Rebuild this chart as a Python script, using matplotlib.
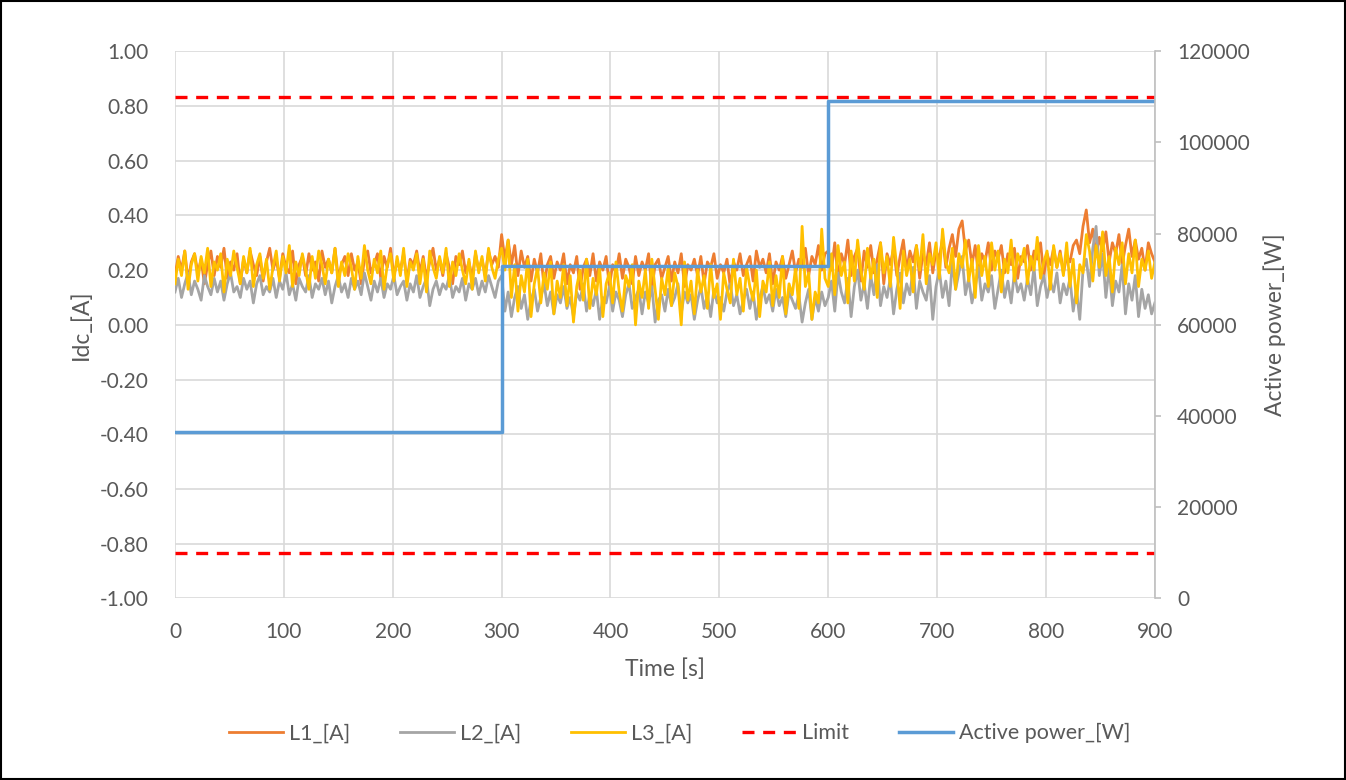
"""Idc per phase vs time, with active power steps on a secondary axis (Excel-style chart)."""

import matplotlib
matplotlib.use("Agg")
import matplotlib.pyplot as plt
from matplotlib.patches import Rectangle

plt.rcParams["font.family"] = ["Lato", "DejaVu Sans"]

# sample times, every 3 s
time_s = list(range(0, 903, 3))

l1_a = [
    # 0 - 297 s
    0.18, 0.25, 0.20, 0.27, 0.16, 0.23, 0.26, 0.19, 0.24, 0.15,
    0.22, 0.27, 0.18, 0.25, 0.21, 0.28, 0.17, 0.23, 0.20, 0.26,
    0.15, 0.24, 0.19, 0.27, 0.22, 0.18, 0.25, 0.16, 0.23, 0.28,
    0.20, 0.24, 0.17, 0.26, 0.21, 0.19, 0.27, 0.15, 0.22, 0.25,
    0.18, 0.26, 0.20, 0.23, 0.16, 0.27, 0.21, 0.24, 0.19, 0.28,
    0.17, 0.22, 0.25, 0.18, 0.26, 0.20, 0.23, 0.15, 0.24, 0.27,
    0.19, 0.22, 0.26, 0.17, 0.25, 0.21, 0.28, 0.18, 0.23, 0.20,
    0.26, 0.16, 0.24, 0.22, 0.27, 0.19, 0.25, 0.17, 0.23, 0.28,
    0.20, 0.24, 0.18, 0.26, 0.21, 0.15, 0.25, 0.22, 0.27, 0.19,
    0.23, 0.17, 0.26, 0.20, 0.24, 0.18, 0.27, 0.22, 0.25, 0.21,
    # 300 - 597 s
    0.33, 0.24, 0.31, 0.22, 0.29, 0.18, 0.27, 0.21, 0.25, 0.16,
    0.24, 0.19, 0.26, 0.14, 0.22, 0.25, 0.17, 0.23, 0.20, 0.26,
    0.15, 0.22, 0.19, 0.25, 0.13, 0.21, 0.24, 0.18, 0.26, 0.16,
    0.23, 0.20, 0.25, 0.14, 0.22, 0.19, 0.26, 0.17, 0.24, 0.21,
    0.15, 0.25, 0.18, 0.23, 0.20, 0.26, 0.13, 0.22, 0.24, 0.17,
    0.21, 0.25, 0.16, 0.23, 0.19, 0.26, 0.14, 0.22, 0.20, 0.24,
    0.18, 0.25, 0.15, 0.23, 0.21, 0.26, 0.17, 0.22, 0.19, 0.24,
    0.14, 0.23, 0.20, 0.26, 0.18, 0.22, 0.25, 0.16, 0.27, 0.21,
    0.24, 0.19, 0.26, 0.15, 0.23, 0.20, 0.25, 0.17, 0.22, 0.27,
    0.19, 0.24, 0.21, 0.28, 0.18, 0.25, 0.22, 0.29, 0.20, 0.26,
    # 600 - 900 s
    0.27, 0.20, 0.30, 0.17, 0.26, 0.22, 0.31, 0.18, 0.25, 0.28,
    0.16, 0.27, 0.21, 0.29, 0.19, 0.24, 0.30, 0.15, 0.26, 0.22,
    0.28, 0.18, 0.25, 0.31, 0.20, 0.27, 0.23, 0.29, 0.17, 0.26,
    0.22, 0.30, 0.19, 0.27, 0.24, 0.32, 0.21, 0.28, 0.33, 0.25,
    0.35, 0.38, 0.27, 0.31, 0.22, 0.29, 0.18, 0.26, 0.23, 0.30,
    0.20, 0.27, 0.24, 0.29, 0.19, 0.26, 0.22, 0.28, 0.17, 0.25,
    0.23, 0.29, 0.20, 0.27, 0.24, 0.30, 0.18, 0.26, 0.22, 0.28,
    0.21, 0.27, 0.19, 0.25, 0.23, 0.29, 0.31, 0.26, 0.36, 0.42,
    0.30, 0.35, 0.25, 0.32, 0.27, 0.34, 0.23, 0.30, 0.26, 0.33,
    0.22, 0.29, 0.35, 0.25, 0.31, 0.24, 0.28, 0.20, 0.30, 0.26, 0.23,
]

l2_a = [
    # 0 - 297 s
    0.12, 0.17, 0.10, 0.15, 0.19, 0.11, 0.16, 0.13, 0.09, 0.18,
    0.14, 0.11, 0.17, 0.12, 0.16, 0.09, 0.15, 0.19, 0.12, 0.14,
    0.10, 0.17, 0.13, 0.16, 0.08, 0.15, 0.18, 0.11, 0.14, 0.12,
    0.17, 0.10, 0.16, 0.13, 0.19, 0.11, 0.15, 0.09, 0.17, 0.14,
    0.12, 0.18, 0.10, 0.15, 0.13, 0.17, 0.11, 0.16, 0.08, 0.14,
    0.18, 0.12, 0.15, 0.10, 0.17, 0.13, 0.16, 0.11, 0.19, 0.14,
    0.09, 0.16, 0.12, 0.17, 0.10, 0.15, 0.13, 0.18, 0.11, 0.14,
    0.16, 0.09, 0.15, 0.12, 0.18, 0.10, 0.14, 0.17, 0.07, 0.13,
    0.16, 0.11, 0.15, 0.13, 0.18, 0.10, 0.14, 0.12, 0.17, 0.09,
    0.15, 0.13, 0.17, 0.11, 0.16, 0.12, 0.18, 0.14, 0.10, 0.16,
    # 300 - 597 s
    0.18, 0.05, 0.12, 0.03, 0.10, 0.14, 0.06, 0.11, 0.02, 0.09,
    0.13, 0.05, 0.10, 0.15, 0.07, 0.12, 0.04, 0.11, 0.08, 0.14,
    0.06, 0.10, 0.03, 0.12, 0.09, 0.15, 0.05, 0.11, 0.07, 0.13,
    0.02, 0.10, 0.08, 0.14, 0.05, 0.12, 0.09, 0.03, 0.11, 0.15,
    0.06, 0.10, 0.13, 0.04, 0.12, 0.08, 0.14, 0.01, 0.09, 0.11,
    0.05, 0.13, 0.07, 0.10, 0.15, 0.04, 0.12, 0.08, 0.11, 0.02,
    0.09, 0.14, 0.06, 0.11, 0.03, 0.13, 0.08, 0.10, 0.05, 0.12,
    0.15, 0.07, 0.11, 0.04, 0.09, 0.13, 0.06, 0.12, 0.02, 0.10,
    0.14, 0.08, 0.11, 0.05, 0.13, 0.07, 0.10, 0.03, 0.12, 0.09,
    0.06, 0.11, 0.01, 0.08, 0.13, 0.02, 0.10, 0.05, 0.12, 0.07,
    # 600 - 900 s
    0.10, 0.16, 0.05, 0.19, 0.12, 0.08, 0.17, 0.03, 0.14, 0.20,
    0.09, 0.15, 0.06, 0.18, 0.11, 0.22, 0.07, 0.14, 0.10, 0.17,
    0.04, 0.13, 0.19, 0.08, 0.15, 0.11, 0.21, 0.06, 0.16, 0.12,
    0.09, 0.18, 0.02, 0.14, 0.20, 0.10, 0.16, 0.07, 0.23, 0.13,
    0.19, 0.25, 0.11, 0.17, 0.08, 0.14, 0.21, 0.09, 0.15, 0.12,
    0.18, 0.06, 0.13, 0.20, 0.10, 0.16, 0.08, 0.19, 0.12, 0.15,
    0.09, 0.17, 0.11, 0.21, 0.07, 0.14, 0.18, 0.10, 0.16, 0.12,
    0.19, 0.08, 0.15, 0.11, 0.17, 0.05, 0.13, 0.02, 0.20, 0.24,
    0.14, 0.28, 0.36, 0.18, 0.26, 0.10, 0.21, 0.07, 0.16, 0.12,
    0.22, 0.04, 0.15, 0.09, 0.18, 0.03, 0.13, 0.06, 0.11, 0.04, 0.08,
]

l3_a = [
    # 0 - 297 s
    0.15, 0.24, 0.18, 0.27, 0.13, 0.22, 0.26, 0.16, 0.25, 0.19,
    0.28, 0.14, 0.23, 0.20, 0.26, 0.12, 0.24, 0.18, 0.27, 0.21,
    0.15, 0.25, 0.19, 0.28, 0.14, 0.22, 0.26, 0.17, 0.24, 0.13,
    0.21, 0.27, 0.16, 0.25, 0.19, 0.29, 0.14, 0.23, 0.18, 0.26,
    0.20, 0.13, 0.25, 0.17, 0.27, 0.22, 0.15, 0.24, 0.19, 0.28,
    0.14, 0.23, 0.18, 0.26, 0.21, 0.13, 0.25, 0.17, 0.29, 0.20,
    0.15, 0.24, 0.19, 0.27, 0.13, 0.22, 0.26, 0.16, 0.25, 0.18,
    0.28, 0.14, 0.23, 0.20, 0.26, 0.15, 0.24, 0.12, 0.27, 0.21,
    0.17, 0.25, 0.19, 0.28, 0.14, 0.23, 0.18, 0.26, 0.20, 0.15,
    0.24, 0.13, 0.27, 0.19, 0.25, 0.16, 0.28, 0.21, 0.17, 0.24,
    # 300 - 597 s
    0.28, 0.20, 0.31, 0.10, 0.22, 0.05, 0.18, 0.12, 0.24, 0.03,
    0.15, 0.21, 0.08, 0.19, 0.13, 0.23, 0.04, 0.16, 0.10, 0.22,
    0.07, 0.18, 0.01, 0.14, 0.20, 0.09, 0.24, 0.06, 0.17, 0.11,
    0.21, 0.03, 0.15, 0.19, 0.08, 0.23, 0.12, 0.05, 0.18, 0.14,
    0.22, 0.00, 0.16, 0.10, 0.20, 0.06, 0.24, 0.13, 0.02, 0.17,
    0.11, 0.21, 0.07, 0.19, 0.14, 0.00, 0.23, 0.09, 0.16, 0.04,
    0.20, 0.12, 0.18, 0.06, 0.22, 0.10, 0.15, 0.02, 0.19, 0.13,
    0.08, 0.24, 0.11, 0.17, 0.05, 0.21, 0.14, 0.09, 0.20, 0.03,
    0.16, 0.12, 0.23, 0.07, 0.18, 0.10, 0.25, 0.04, 0.15, 0.11,
    0.21, 0.06, 0.36, 0.14, 0.19, 0.02, 0.12, 0.08, 0.35, 0.17,
    # 600 - 900 s
    0.14, 0.26, 0.11, 0.29, 0.18, 0.23, 0.08, 0.27, 0.16, 0.31,
    0.20, 0.13, 0.28, 0.17, 0.24, 0.10, 0.30, 0.19, 0.25, 0.14,
    0.32, 0.21, 0.06, 0.27, 0.18, 0.24, 0.12, 0.29, 0.20, 0.33,
    0.15, 0.26, 0.22, 0.30, 0.17, 0.35, 0.23, 0.19, 0.28, 0.13,
    0.26, 0.21, 0.31, 0.16, 0.24, 0.10, 0.29, 0.18, 0.25, 0.14,
    0.30, 0.20, 0.27, 0.12, 0.24, 0.19, 0.31, 0.16, 0.26, 0.22,
    0.28, 0.15, 0.25, 0.20, 0.32, 0.17, 0.23, 0.27, 0.13, 0.29,
    0.21, 0.26, 0.18, 0.30, 0.14, 0.24, 0.08, 0.22, 0.19, 0.33,
    0.27, 0.16, 0.29, 0.21, 0.34, 0.18, 0.25, 0.12, 0.28, 0.22,
    0.30, 0.15, 0.26, 0.19, 0.31, 0.14, 0.24, 0.20, 0.27, 0.17, 0.23,
]

# active power setpoint steps
power_time_s = [0, 300, 600, 900]
power_w = [36500, 73000, 109000, 109000]

limit_a = 0.833

idc_ticks = [-1.0, -0.8, -0.6, -0.4, -0.2, 0.0, 0.2, 0.4, 0.6, 0.8, 1.0]
idc_tick_labels = ["-1.00", "-0.80", "-0.60", "-0.40", "-0.20", "0.00",
                   "0.20", "0.40", "0.60", "0.80", "1.00"]
power_ticks = [0, 20000, 40000, 60000, 80000, 100000, 120000]
time_ticks = [0, 100, 200, 300, 400, 500, 600, 700, 800, 900]

LABEL_COLOR = "#595959"
GRID_COLOR = "#D9D9D9"
AXIS_COLOR = "#BFBFBF"


def main():
    fig = plt.figure(figsize=(13.46, 7.8), dpi=100)
    ax = fig.add_axes([0.130, 0.2329, 0.728, 0.7013])
    ax2 = ax.twinx()

    ax.plot(time_s, l1_a, color="#ED7D31", lw=2.0, label="L1_[A]")
    ax.plot(time_s, l2_a, color="#A5A5A5", lw=2.0, label="L2_[A]")
    ax.plot(time_s, l3_a, color="#FFC000", lw=2.0, label="L3_[A]")
    ax.plot([0, 900], [limit_a, limit_a], color="#FF0000", lw=2.4, dashes=(3.6, 2.6), label="Limit")
    ax.plot([0, 900], [-limit_a, -limit_a], color="#FF0000", lw=2.4, dashes=(3.6, 2.6))

    ax2.step(power_time_s, power_w, where="post", color="#5B9BD5", lw=2.5, label="Active power_[W]")

    ax.set_xlim(0, 900)
    ax.set_ylim(-1.0, 1.0)
    ax2.set_ylim(0, 120000)
    ax.set_xticks(time_ticks)
    ax.set_yticks(idc_ticks)
    ax.set_yticklabels(idc_tick_labels)
    ax2.set_yticks(power_ticks)
    ax2.set_yticklabels([str(v) for v in power_ticks])

    ax.grid(True, color=GRID_COLOR, lw=1.2)
    ax.set_axisbelow(True)
    for a in (ax, ax2):
        for side in a.spines.values():
            side.set_visible(False)
        a.tick_params(length=0, labelsize=15, labelcolor=LABEL_COLOR)
    ax2.spines["right"].set_visible(True)
    ax2.spines["right"].set_color(AXIS_COLOR)
    ax2.spines["right"].set_linewidth(1.2)
    ax2.tick_params(axis="y", length=4, width=1.2, color=AXIS_COLOR, pad=12)
    ax.tick_params(axis="x", pad=17)
    ax.tick_params(axis="y", pad=19)

    ax.set_xlabel("Time [s]", fontsize=16.5, color=LABEL_COLOR, labelpad=12)
    ax.set_ylabel("Idc_[A]", fontsize=16.5, color=LABEL_COLOR, labelpad=6)
    ax2.set_ylabel("Active power_[W]", fontsize=16.5, color=LABEL_COLOR, labelpad=10)

    handles, labels = ax.get_legend_handles_labels()
    h2, l2 = ax2.get_legend_handles_labels()
    leg = fig.legend(handles + h2, labels + l2, loc="center", bbox_to_anchor=(0.505, 0.06),
                     ncol=5, frameon=False, fontsize=15.5, handlelength=2.5,
                     handletextpad=0.3, columnspacing=2.3)
    for txt in leg.get_texts():
        txt.set_color(LABEL_COLOR)

    fig.patches.append(Rectangle((0.001, 0.001), 0.998, 0.998, transform=fig.transFigure,
                                 fill=False, edgecolor="black", lw=1.5))

    fig.savefig("out.png", dpi=100)
    plt.close(fig)


if __name__ == "__main__":
    main()
